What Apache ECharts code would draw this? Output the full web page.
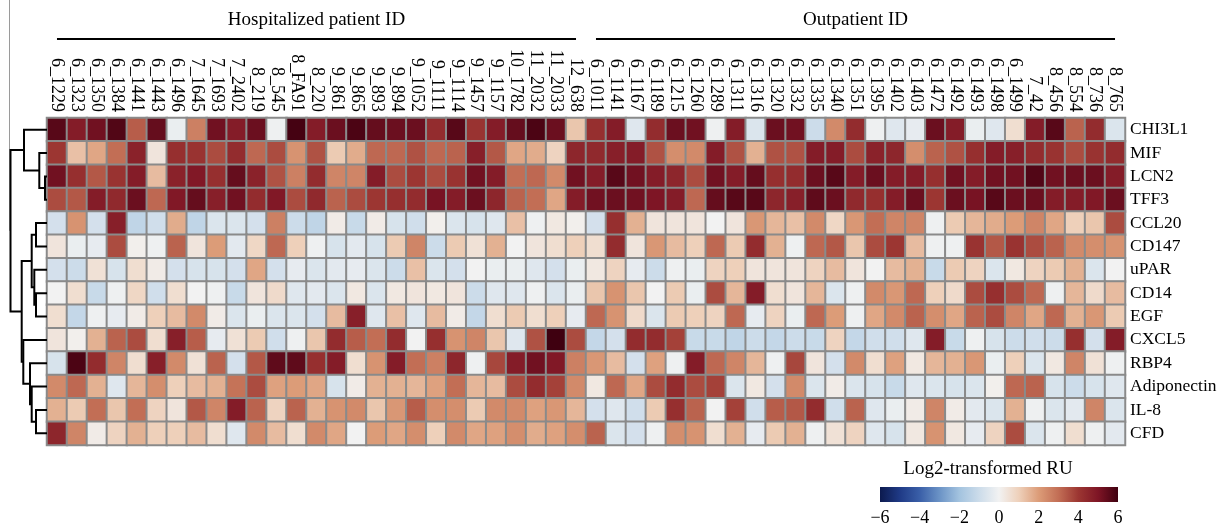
<!DOCTYPE html>
<html><head><meta charset="utf-8">
<script src="https://cdn.jsdelivr.net/npm/echarts@6/dist/echarts.min.js"></script>
<style>html,body{margin:0;padding:0;background:#fff}#c{width:1229px;height:527px}</style>
</head><body><div id="c"></div>
<script>
// ---------- data ----------
const hospitalizedIds = ['6_1229','6_1323','6_1350','6_1384','6_1441','6_1443','6_1496','7_1645','7_1693','7_2402','8_219','8_545','8_FA91','8_220','9_861','9_865','9_893','9_894','9_1052','9_1111','9_1114','9_1457','9_1157','10_1782','11_2032','11_2033','12_638'];
const outpatientIds = ['6_1011','6_1141','6_1167','6_1189','6_1215','6_1260','6_1289','6_1311','6_1316','6_1320','6_1332','6_1335','6_1340','6_1351','6_1395','6_1402','6_1403','6_1472','6_1492','6_1493','6_1498','6_1499','7_42','8_456','8_554','8_736','8_765'];
const patientIds = hospitalizedIds.concat(outpatientIds);
const genes = ['CHI3L1','MIF','LCN2','TFF3','CCL20','CD147','uPAR','CD14','EGF','CXCL5','RBP4','Adiponectin','IL-8','CFD'];

const CHI3L1 = [5.6,4.8,5.2,5.7,3.3,5.4,-0.2,2.6,5.2,4.8,5.3,-0.1,5.9,4.8, 5.3,5.8,5.4,5.3,5.3,4.3,5.6,4.1,4.8,5.4,5.8,5.3,1.2,4.2, 4.8,-0.5,4.3,5.3,5.2,-0.1,4.8,-0.6,5.3,5.2,-1.0,2.4,4.3, -0.1,-0.5,-0.3,5.3,4.8,-0.2,-0.5,0.6,4.8,5.6,3.2,4.3,-0.6];
const MIF = [4.0,1.3,1.8,3.0,4.6,0.4,4.2,4.1,3.6,4.3,3.1,3.6,2.2,3.5, 1.1,1.7,3.1,3.1,3.5,3.1,3.2,4.7,3.4,1.8,1.7,0.9,4.5,4.4, 4.7,4.8,3.5,2.3,2.4,4.8,3.5,1.6,3.5,3.5,4.8,4.8,3.6, 4.6,4.5,2.3,3.2,3.5,4.2,4.8,4.7,4.3,4.1,3.6,4.1,4.3];
const LCN2 = [5.2,4.2,3.4,4.1,4.8,1.4,4.6,4.9,4.2,5.4,4.6,3.5,2.6,4.3, 2.5,2.5,4.8,3.6,4.0,3.6,4.1,5.2,4.8,3.0,3.1,2.4,5.2,4.8, 5.6,5.2,4.8,4.5,3.6,5.2,4.8,5.4,4.2,4.3,5.3,5.6,4.8, 5.3,4.8,4.8,4.2,5.2,4.8,5.2,5.2,5.7,5.2,5.3,5.3,4.8];
const TFF3 = [3.6,3.4,4.8,4.4,5.3,3.1,4.9,5.4,4.7,5.2,4.3,4.9,3.6,4.4, 3.2,3.6,4.0,4.2,4.3,5.1,4.8,5.3,4.5,3.2,3.0,1.8,4.8,5.2, 5.3,5.2,5.0,4.8,3.1,5.4,5.6,5.6,4.5,4.7,5.5,5.3,4.4, 4.2,4.8,5.3,4.0,5.3,5.1,5.6,5.3,5.3,4.8,4.8,4.9,5.3];
const CCL20 = [-0.8,2.2,-0.8,4.7,-1.3,-0.9,1.7,-1.3,-0.6,-0.6,-0.8,2.6,-1.0,-1.3, 0.2,-1.1,0.2,-0.7,-0.9,0.1,-0.6,-0.7,-0.5,1.3,-0.1,0.3,0.1,-0.8, 4.2,1.6,0.4,0.4,0.4,0.0,0.4,2.1,1.5,1.3,2.4,0.8,2.1, 3.0,2.5,2.5,-0.1,1.1,1.5,1.7,2.0,2.5,1.8,1.0,1.2,3.6];
const CD147 = [0.4,-0.2,-0.3,3.6,0.1,-0.1,3.2,0.4,2.0,-0.4,0.8,3.1,1.0,-0.1, -0.7,-0.4,-0.7,1.1,2.5,-1.0,1.1,0.5,1.6,0.0,0.4,0.6,1.0,0.6, 4.3,0.4,2.1,1.4,1.0,3.1,1.1,4.3,1.6,-0.1,3.1,3.4,1.2, 3.6,4.0,1.4,-0.1,-0.1,4.1,3.4,4.1,3.6,3.2,2.4,2.3,2.2];
const uPAR = [-0.8,-1.0,0.5,-0.7,0.6,0.2,-0.8,-0.7,-0.7,-0.8,1.8,-0.8,-0.3,-0.6, -0.4,-0.3,-0.6,-1.0,1.3,-0.6,-0.8,0.0,-0.2,-0.2,-0.5,-0.8,-0.2,0.3, 0.9,-0.3,-1.0,-0.1,-0.2,0.9,1.0,0.4,0.4,0.4,0.9,1.4,0.4, 0.0,1.4,1.6,-1.1,1.1,0.9,-0.6,0.3,0.9,1.1,1.6,-0.6,0.0];
const CD14 = [0.0,0.6,-1.1,-0.1,0.8,-0.9,0.6,0.0,-0.1,-1.1,0.4,0.7,-0.5,-0.4, -0.6,0.3,-0.6,0.3,0.4,0.3,0.4,-1.0,-0.5,-0.5,-0.1,-0.6,-0.2,1.2, 2.2,1.2,0.0,1.1,-0.2,3.6,1.5,4.8,0.6,0.4,1.5,-0.6,-0.1, 2.4,2.1,3.1,1.0,0.7,3.6,4.2,3.6,3.1,-0.1,1.5,0.7,1.4];
const EGF = [0.6,-1.2,-0.1,-0.3,0.2,1.0,1.4,2.4,0.2,-0.6,-0.2,-0.6,-0.6,-0.8, 1.4,4.7,-0.5,1.3,-0.5,1.4,0.2,-1.2,0.6,1.1,0.6,1.0,-0.3,3.1, 2.2,0.7,-0.6,1.1,1.0,0.9,3.1,-0.3,0.9,-0.2,3.1,2.0,-0.1, 1.8,2.4,3.2,2.3,1.8,3.2,3.6,2.5,1.8,3.1,1.6,2.1,1.1];
const CXCL5 = [0.4,0.1,1.6,3.2,3.6,0.6,4.7,3.3,-0.3,0.5,1.1,-0.9,-0.1,1.2, 4.3,3.3,3.0,4.3,0.0,4.2,2.2,2.5,1.2,-0.5,3.5,6.0,3.6,-1.2, -0.8,4.3,4.3,3.8,-1.1,-1.1,-1.3,-1.0,-1.2,-1.0,-1.1,0.9,-1.2, -0.9,-0.9,-0.5,4.8,-1.1,-0.1,-0.7,-1.0,-0.9,-1.0,4.2,-0.8,4.8];
const RBP4 = [-0.7,5.8,4.3,2.5,0.6,4.7,2.4,0.5,3.2,-0.8,3.4,5.5,5.5,4.2, 4.8,0.6,2.2,4.8,3.0,2.6,4.5,-0.1,3.7,4.8,5.2,4.9,2.6,2.1, 1.4,-0.8,1.9,-0.1,4.8,3.1,2.5,1.5,-0.1,3.7,0.4,-0.8,2.4, 0.6,1.9,0.3,1.5,1.6,2.1,-0.2,1.0,-0.6,0.3,2.5,0.5,-0.1];
const Adiponectin = [2.4,3.1,1.6,-0.5,1.5,2.3,1.0,1.4,1.6,2.9,3.6,1.9,2.0,1.8, -0.7,0.2,1.6,1.6,1.5,1.9,3.0,1.5,1.4,3.6,4.3,3.8,2.4,0.3, 3.1,1.8,3.6,4.3,3.6,3.8,-0.6,0.3,-0.8,2.4,-0.6,0.2,-0.6, -0.7,-1.1,-0.5,-0.6,-0.7,-0.6,0.1,3.1,3.2,-0.7,-1.0,-0.7,-0.5];
const IL8 = [1.6,1.1,3.0,1.2,3.0,0.9,0.4,3.4,2.5,4.8,3.2,0.9,3.2,1.6, 2.2,2.4,1.2,2.1,3.3,2.3,2.3,1.1,2.4,2.4,1.9,2.1,1.5,-0.8, -0.5,-0.9,1.1,4.2,3.2,0.0,3.8,-0.9,3.3,3.4,4.3,-0.9,3.2, -0.5,-0.2,0.2,2.5,0.2,-0.4,-0.6,1.6,-0.1,-0.6,-0.4,2.5,-0.6];
const CFD = [4.5,2.5,0.2,0.9,1.6,1.0,1.0,1.4,0.6,-0.5,2.4,1.4,0.6,2.4, 1.8,0.0,2.0,1.8,2.3,1.0,2.4,1.8,1.9,2.3,1.7,1.9,2.3,3.2, -0.6,-0.8,-0.1,2.3,2.2,0.6,1.6,-0.3,1.1,1.6,-0.1,0.5,0.9, -0.5,-0.7,0.3,2.2,0.3,-0.3,0.9,3.6,-0.6,-0.1,0.6,-0.1,-0.4];
const rowValues = [CHI3L1, MIF, LCN2, TFF3, CCL20, CD147, uPAR, CD14, EGF, CXCL5, RBP4, Adiponectin, IL8, CFD];

const groupNames = ['Hospitalized patient ID', 'Outpatient ID'];
const groupFirst = [0, 27];
const groupLast = [26, 53];

// row dendrogram, linkage style: [nodeA, nodeB, height]; nodes 0..13 are rows, 14+ are earlier merges
const dendroMerges = [
  [2, 3, 2], [1, 14, 7.7], [0, 15, 23], [4, 5, 11], [7, 8, 11], [6, 18, 12.7],
  [17, 19, 15.3], [12, 13, 11], [11, 21, 15.3], [10, 22, 17], [9, 23, 23.7],
  [20, 24, 25.3], [16, 25, 36.5]
];

const colorTicks = [-6, -4, -2, 0, 2, 4, 6];
const colorStops = ['#0c1a4e','#1f3a86','#3a5fa8','#6b93c6','#a3c3df','#ccdcea','#f2f2f2','#eed0ba','#dc9c78','#c26e55','#9c3632','#7e1525','#3f0010'];

// ---------- build ----------
const heatData = [];
rowValues.forEach((row, r) => row.forEach((v, c) => heatData.push([c, r, v])));

const nodeY = genes.map((g, i) => i), nodeH = genes.map(() => 0);
const dendroData = dendroMerges.map(m => {
  const a = m[0], b = m[1];
  const item = [nodeH[a], nodeY[a], nodeH[b], nodeY[b], m[2]];
  nodeY.push((nodeY[a] + nodeY[b]) / 2); nodeH.push(m[2]);
  return item;
});

const FONT = 'Liberation Serif';
const G = {left: 47, top: 118, width: 1078, height: 327};
const chart = echarts.init(document.getElementById('c'), null, {renderer: 'canvas'});
chart.setOption({
  animation: false,
  backgroundColor: '#fff',
  grid: [
    {left: G.left, top: G.top, width: G.width, height: G.height},
    {left: 0, top: G.top, width: G.left, height: G.height},
    {left: 880, top: 487, width: 238, height: 16}
  ],
  xAxis: [
    {type: 'category', gridIndex: 0, data: patientIds, position: 'top',
     axisLine: {show: false}, axisTick: {show: false}, splitLine: {show: false},
     axisLabel: {rotate: 90, interval: 0, margin: 6, fontSize: 18, fontFamily: FONT, color: '#000'}},
    {type: 'value', gridIndex: 1, min: 0, max: 47, inverse: true, show: false},
    {type: 'value', gridIndex: 2, min: -6, max: 6, interval: 2,
     axisLine: {show: false}, axisTick: {show: false}, splitLine: {show: false},
     axisLabel: {margin: 7, fontSize: 18, fontFamily: FONT, color: '#000',
       formatter: v => v < 0 ? '\u2212' + Math.abs(v) : String(v)}}
  ],
  yAxis: [
    {type: 'category', gridIndex: 0, data: genes, inverse: true, position: 'right',
     axisLine: {show: false}, axisTick: {show: false}, splitLine: {show: false},
     axisLabel: {interval: 0, margin: 5, fontSize: 17.5, fontFamily: FONT, color: '#000'}},
    {type: 'value', gridIndex: 1, min: -0.5, max: 13.5, inverse: true, show: false},
    {type: 'value', gridIndex: 2, min: 0, max: 1, show: false}
  ],
  visualMap: {type: 'continuous', min: -6, max: 6, show: false, seriesIndex: 0,
              inRange: {color: colorStops}},
  graphic: [{type: 'text', x: 988, y: 469,
             style: {text: 'Log2-transformed RU', font: '19px "' + FONT + '"', fill: '#000',
                     textAlign: 'center', textVerticalAlign: 'middle'}}],
  series: [
    {type: 'heatmap', xAxisIndex: 0, yAxisIndex: 0, data: heatData,
     itemStyle: {borderColor: '#8a8a8a', borderWidth: 2},
     emphasis: {disabled: true}},
    {type: 'custom', xAxisIndex: 0, yAxisIndex: 0, clip: false, silent: true,
     data: groupNames.map((n, i) => [groupFirst[i], groupLast[i], 0]),
     encode: {x: [0, 1], y: 2},
     renderItem: (params, api) => {
       const i = params.dataIndex;
       const a = api.coord([api.value(0), 0]), b = api.coord([api.value(1), 0]);
       return {type: 'group', children: [
         {type: 'line', shape: {x1: a[0], y1: 39, x2: b[0], y2: 39},
          style: {stroke: '#000', lineWidth: 2}},
         {type: 'text', x: (a[0] + b[0]) / 2, y: 20,
          style: {text: groupNames[i], font: '19px "' + FONT + '"', fill: '#000',
                  textAlign: 'center', textVerticalAlign: 'middle'}}
       ]};
     }},
    {type: 'custom', xAxisIndex: 1, yAxisIndex: 1, clip: false, silent: true,
     data: dendroData, encode: {x: [0, 2, 4], y: [1, 3]},
     renderItem: (params, api) => {
       const h = api.value(4);
       const p1 = api.coord([api.value(0), api.value(1)]);
       const p2 = api.coord([h, api.value(1)]);
       const p3 = api.coord([h, api.value(3)]);
       const p4 = api.coord([api.value(2), api.value(3)]);
       const children = [{type: 'polyline', shape: {points: [p1, p2, p3, p4]},
               style: {stroke: '#000', lineWidth: 2, fill: null}}];
       if (params.dataIndex === params.dataInsideLength - 1) {
         // root stem running up to the top edge
         children.unshift({type: 'line', shape: {x1: p2[0] - 1, y1: 0, x2: p2[0] - 1, y2: (p2[1] + p3[1]) / 2},
                           style: {stroke: '#9a9a9a', lineWidth: 1}});
       }
       return {type: 'group', children: children};
     }},
    {type: 'custom', xAxisIndex: 2, yAxisIndex: 2, silent: true,
     data: [[colorTicks[0], colorTicks[colorTicks.length - 1]]], encode: {x: [0, 1]},
     renderItem: (params, api) => {
       const a = api.coord([api.value(0), 0]), b = api.coord([api.value(1), 1]);
       const stops = colorStops.map((c, k) => ({offset: k / (colorStops.length - 1), color: c}));
       return {type: 'rect', shape: {x: a[0], y: b[1], width: b[0] - a[0], height: a[1] - b[1]},
               style: {fill: new echarts.graphic.LinearGradient(0, 0, 1, 0, stops)}};
     }}
  ]
});
</script></body></html>
